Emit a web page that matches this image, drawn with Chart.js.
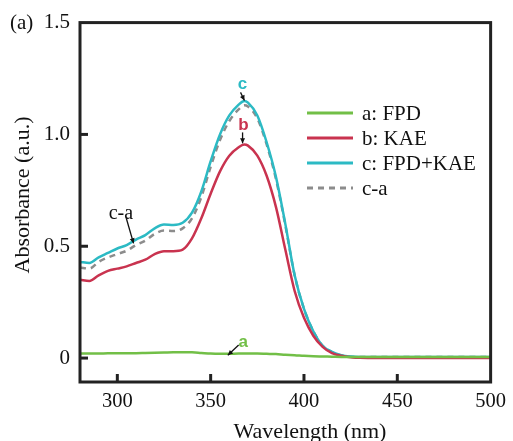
<!DOCTYPE html>
<html>
<head>
<meta charset="utf-8">
<script src="https://cdn.jsdelivr.net/npm/chart.js@4/dist/chart.umd.min.js"></script>
<style>
  html, body { margin: 0; padding: 0; background: #fff; }
  #wrap { width: 513px; height: 441px; position: relative; }
</style>
</head>
<body>
<div id="wrap"><canvas id="c" width="513" height="441"></canvas></div>
<script>
// ---------- data ----------
const wavelengths = [280, 285, 290, 295, 300, 305, 310, 315, 320, 325, 330, 335, 340, 345, 350, 355, 360, 365, 368, 370, 375, 380, 385, 390, 395, 400, 405, 410, 415, 420, 425, 430, 440, 450, 460, 470, 480, 490, 500];
const seriesA = [0.020, 0.020, 0.020, 0.021, 0.021, 0.022, 0.022, 0.023, 0.024, 0.025, 0.026, 0.026, 0.026, 0.023, 0.020, 0.019, 0.019, 0.020, 0.020, 0.020, 0.020, 0.019, 0.018, 0.015, 0.013, 0.010, 0.008, 0.007, 0.006, 0.005, 0.005, 0.005, 0.005, 0.005, 0.005, 0.005, 0.005, 0.005, 0.005];
const seriesB = [0.350, 0.345, 0.370, 0.390, 0.400, 0.410, 0.425, 0.440, 0.465, 0.478, 0.478, 0.485, 0.535, 0.625, 0.735, 0.835, 0.905, 0.943, 0.955, 0.950, 0.905, 0.815, 0.675, 0.485, 0.300, 0.180, 0.100, 0.050, 0.022, 0.010, 0.004, 0.001, 0.000, 0.000, 0.000, 0.000, 0.000, 0.000, 0.000];
const seriesC = [0.430, 0.425, 0.450, 0.470, 0.490, 0.505, 0.530, 0.550, 0.580, 0.597, 0.595, 0.605, 0.650, 0.745, 0.880, 1.000, 1.085, 1.133, 1.150, 1.142, 1.085, 0.965, 0.810, 0.600, 0.370, 0.220, 0.120, 0.055, 0.028, 0.013, 0.007, 0.005, 0.005, 0.005, 0.005, 0.005, 0.005, 0.005, 0.005];
const seriesCminusA = [0.405, 0.400, 0.430, 0.450, 0.465, 0.480, 0.505, 0.525, 0.555, 0.570, 0.568, 0.580, 0.625, 0.720, 0.855, 0.975, 1.060, 1.112, 1.130, 1.125, 1.072, 0.955, 0.800, 0.595, 0.370, 0.220, 0.120, 0.055, 0.027, 0.012, 0.006, 0.005, 0.005, 0.005, 0.005, 0.005, 0.005, 0.005, 0.005];
const seriesNames = ['a: FPD', 'b: KAE', 'c: FPD+KAE', 'c-a'];
const xTickValues = [300, 350, 400, 450, 500];
const yTickValues = [0, 0.5, 1.0, 1.5];
const yTickLabels = ['0', '0.5', '1.0', '1.5'];
const xTitle = 'Wavelength (nm)';
const yTitle = 'Absorbance (a.u.)';
const panelLabel = '(a)';
// annotations: [text, x, y, arrowFromX, arrowFromY, arrowToX, arrowToY] in data units
const annoC = ['c', 367.1, 1.223, 366.0, 1.188, 368.1, 1.152];
const annoB = ['b', 367.6, 1.040, 367.1, 1.009, 367.1, 0.960];
const annoA = ['a', 367.4, 0.071, 365.0, 0.058, 359.2, 0.013];
const annoCA = ['c-a', 301.9, 0.647, 304.8, 0.625, 308.7, 0.513];

// ---------- styles ----------
const COL_A = '#72bf47', COL_B = '#c9334f', COL_C = '#2cbac4', COL_D = '#8c8c8c';
const SERIF = '"Liberation Serif", "Times New Roman", serif';
const SANS = '"Liberation Sans", Arial, sans-serif';
const INK = '#222';

function pts(ys) { return wavelengths.map((x, i) => ({ x, y: ys[i] })); }
function ds(label, ys, color, dash) {
  return { label, data: pts(ys), borderColor: color, backgroundColor: color, borderWidth: 2.5,
           borderDash: dash || [], pointRadius: 0, fill: false, cubicInterpolationMode: 'monotone' };
}

const decor = {
  id: 'decor',
  afterDatasetsDraw(chart) {
    const { ctx, chartArea: a, scales: { x, y } } = chart;
    ctx.save();
    // inward ticks
    ctx.strokeStyle = INK; ctx.lineWidth = 3;
    xTickValues.forEach(v => { if (v < 500) { const px = x.getPixelForValue(v); ctx.beginPath(); ctx.moveTo(px, a.bottom); ctx.lineTo(px, a.bottom - 8); ctx.stroke(); } });
    yTickValues.forEach(v => { if (v < 1.5) { const py = y.getPixelForValue(v); ctx.beginPath(); ctx.moveTo(a.left, py); ctx.lineTo(a.left + 8, py); ctx.stroke(); } });
    // frame
    ctx.lineWidth = 3;
    ctx.strokeRect(a.left, a.top, a.right - a.left, a.bottom - a.top);

    // legend
    const lx0 = 307, lx1 = 353, ltx = 362, ly0 = 113, lstep = 25;
    chart.data.datasets.forEach((d, i) => {
      const yy = ly0 + i * lstep;
      ctx.strokeStyle = d.borderColor; ctx.lineWidth = 3; ctx.setLineDash(d.borderDash || []);
      ctx.beginPath(); ctx.moveTo(lx0, yy); ctx.lineTo(lx1, yy); ctx.stroke();
      ctx.setLineDash([]);
      ctx.fillStyle = '#111'; ctx.font = '21px ' + SERIF; ctx.textAlign = 'left'; ctx.textBaseline = 'middle';
      ctx.fillText(d.label, ltx, yy + 1);
    });

    // annotations
    function anno(an, color, font) {
      const [t, tx, ty, fx, fy, ex, ey] = an;
      ctx.fillStyle = color; ctx.font = font; ctx.textAlign = 'center'; ctx.textBaseline = 'middle';
      ctx.fillText(t, x.getPixelForValue(tx), y.getPixelForValue(ty));
      const x1 = x.getPixelForValue(fx), y1 = y.getPixelForValue(fy), x2 = x.getPixelForValue(ex), y2 = y.getPixelForValue(ey);
      ctx.strokeStyle = '#111'; ctx.fillStyle = '#111'; ctx.lineWidth = 1.3;
      ctx.beginPath(); ctx.moveTo(x1, y1); ctx.lineTo(x2, y2); ctx.stroke();
      const ang = Math.atan2(y2 - y1, x2 - x1), L = 5, W = 2.5;
      ctx.beginPath(); ctx.moveTo(x2, y2);
      ctx.lineTo(x2 - L * Math.cos(ang) + W * Math.sin(ang), y2 - L * Math.sin(ang) - W * Math.cos(ang));
      ctx.lineTo(x2 - L * Math.cos(ang) - W * Math.sin(ang), y2 - L * Math.sin(ang) + W * Math.cos(ang));
      ctx.closePath(); ctx.fill();
    }
    anno(annoC, COL_C, 'bold 17px ' + SANS);
    anno(annoB, COL_B, 'bold 17px ' + SANS);
    anno(annoA, COL_A, 'bold 17px ' + SANS);
    anno(annoCA, '#111', '20px ' + SERIF);

    // axis titles and panel label
    ctx.fillStyle = '#111'; ctx.textBaseline = 'middle'; ctx.textAlign = 'center';
    ctx.font = '22px ' + SERIF;
    ctx.fillText(xTitle, 310, 432);
    ctx.save(); ctx.translate(23, 195); ctx.rotate(-Math.PI / 2); ctx.fillText(yTitle, 0, 0); ctx.restore();
    ctx.font = '21px ' + SERIF; ctx.textAlign = 'left';
    ctx.fillText(panelLabel, 10, 23);
    ctx.restore();
  }
};

new Chart(document.getElementById('c'), {
  type: 'line',
  data: {
    datasets: [
      ds(seriesNames[0], seriesA, COL_A),
      ds(seriesNames[1], seriesB, COL_B),
      ds(seriesNames[2], seriesC, COL_C),
      ds(seriesNames[3], seriesCminusA, COL_D, [6, 5])
    ]
  },
  options: {
    responsive: false, animation: false, devicePixelRatio: 1,
    layout: { padding: { top: 22, right: 11, left: 0, bottom: 0 } },
    plugins: { legend: { display: false }, tooltip: { enabled: false } },
    scales: {
      x: {
        type: 'linear', min: 280, max: 500,
        grid: { display: false, drawTicks: false }, border: { display: false },
        afterBuildTicks: s => { s.ticks = xTickValues.map(v => ({ value: v })); },
        afterFit: s => { s.height = 59; },
        ticks: { color: '#111', font: { family: SERIF, size: 20.5 }, padding: 7, maxRotation: 0, autoSkip: false,
                 callback: v => String(v) }
      },
      y: {
        type: 'linear', min: -0.107, max: 1.5,
        grid: { display: false, drawTicks: false }, border: { display: false },
        afterBuildTicks: s => { s.ticks = yTickValues.map(v => ({ value: v })); },
        afterFit: s => { s.width = 80; },
        ticks: { color: '#111', font: { family: SERIF, size: 21 }, padding: 10, autoSkip: false,
                 callback: v => { const i = yTickValues.indexOf(v); return i >= 0 ? yTickLabels[i] : ''; } }
      }
    }
  },
  plugins: [decor]
});
</script>
</body>
</html>
